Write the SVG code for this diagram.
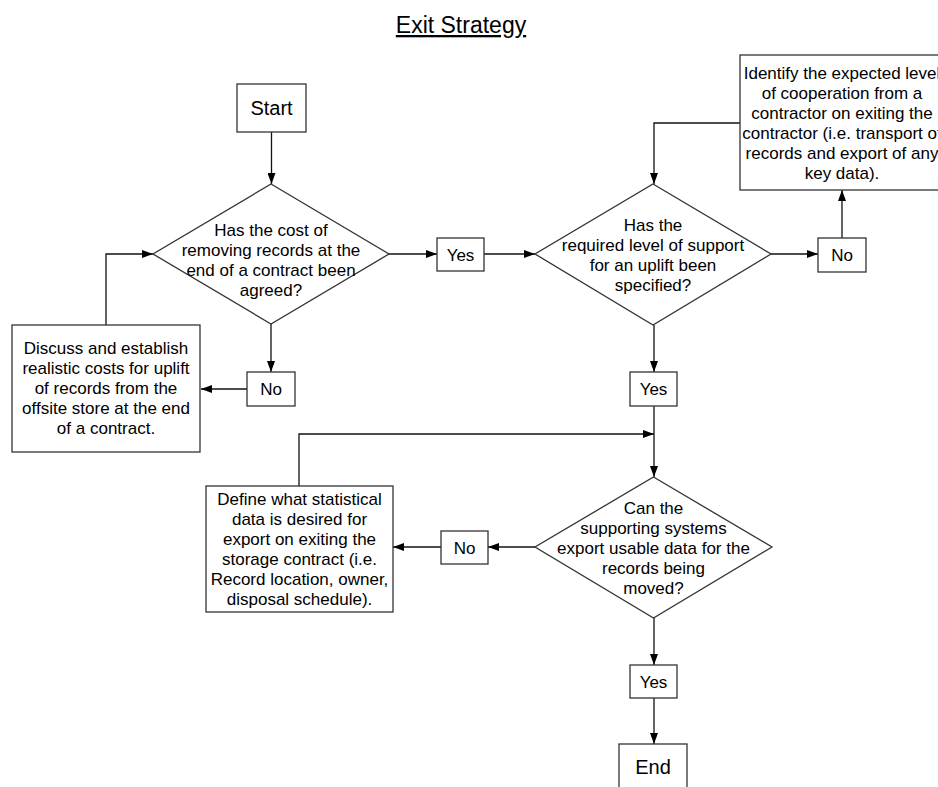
<svg xmlns="http://www.w3.org/2000/svg" width="938" height="787" viewBox="0 0 938 787">
  <defs>
    <marker id="arrow" viewBox="0 0 11 8" refX="11" refY="4" markerWidth="11" markerHeight="8" markerUnits="userSpaceOnUse" orient="auto">
      <path d="M0,0 L11,4 L0,8 z" fill="#000"/>
    </marker>
    <style>
      .shape { fill: #fff; stroke: #333; stroke-width: 1.3; }
      .conn { fill: none; stroke: #111; stroke-width: 1.3; marker-end: url(#arrow); }
      .line { fill: none; stroke: #111; stroke-width: 1.3; }
      text { font-family: "Liberation Sans", Arial, sans-serif; font-size: 17px; fill: #000; text-anchor: middle; }
      .big { font-size: 20px; }
      .title { font-size: 23px; text-decoration: underline; }
    </style>
  </defs>

  <rect width="938" height="787" fill="#fff"/>

  <text class="title" x="461" y="33">Exit Strategy</text>

  <!-- connectors -->
  <g id="connectors">
    <path class="conn" d="M271.5,132 L271.5,184"/>
    <path class="conn" d="M389,254 L437,254"/>
    <path class="conn" d="M484,254 L535,254"/>
    <path class="conn" d="M271,324 L271,372"/>
    <path class="conn" d="M247,389 L201,389"/>
    <path class="conn" d="M106,325 L106,254 L153,254"/>
    <path class="conn" d="M771,254 L818,254"/>
    <path class="conn" d="M842,238 L842,190"/>
    <path class="conn" d="M740,123 L654,123 L654,184"/>
    <path class="conn" d="M654,325 L654,372"/>
    <path class="conn" d="M654,406 L654,477"/>
    <path class="conn" d="M299,486 L299,434 L654,434"/>
    <path class="conn" d="M535,547 L488,547"/>
    <path class="conn" d="M441,547 L393,547"/>
    <path class="conn" d="M654,618 L654,665"/>
    <path class="conn" d="M654,698 L654,744"/>
  </g>

  <g id="start">
    <rect class="shape" x="237" y="84" width="69" height="48"/>
    <text class="big" x="271.5" y="115">Start</text>
  </g>

  <g id="decision-cost">
    <polygon class="shape" points="271,184 389,254 271,324 153,254"/>
    <text x="271" y="236">Has the cost of</text>
    <text x="271" y="256">removing records at the</text>
    <text x="271" y="276">end of a contract been</text>
    <text x="271" y="296">agreed?</text>
  </g>

  <g id="yes-1">
    <rect class="shape" x="437" y="238" width="47" height="33"/>
    <text x="460.5" y="260.5">Yes</text>
  </g>

  <g id="no-1">
    <rect class="shape" x="247" y="372" width="48" height="34"/>
    <text x="271" y="395">No</text>
  </g>

  <g id="discuss-costs">
    <rect class="shape" x="12" y="325" width="188" height="127"/>
    <text x="106" y="354">Discuss and establish</text>
    <text x="106" y="374">realistic costs for uplift</text>
    <text x="106" y="394">of records from the</text>
    <text x="106" y="414">offsite store at the end</text>
    <text x="106" y="434">of a contract.</text>
  </g>

  <g id="decision-support">
    <polygon class="shape" points="653,184 771,254 653,325 535,254"/>
    <text x="653" y="231">Has the</text>
    <text x="653" y="251">required level of support</text>
    <text x="653" y="271">for an uplift been</text>
    <text x="653" y="291">specified?</text>
  </g>

  <g id="no-2">
    <rect class="shape" x="818" y="238" width="48" height="34"/>
    <text x="842" y="261">No</text>
  </g>

  <g id="identify-cooperation">
    <rect class="shape" x="740" y="55" width="204" height="135"/>
    <text x="842" y="79">Identify the expected level</text>
    <text x="842" y="99">of cooperation from a</text>
    <text x="842" y="119">contractor on exiting the</text>
    <text x="842" y="139">contractor (i.e. transport of</text>
    <text x="842" y="159">records and export of any</text>
    <text x="842" y="179">key data).</text>
  </g>

  <g id="yes-2">
    <rect class="shape" x="630" y="372" width="47" height="34"/>
    <text x="653.5" y="395">Yes</text>
  </g>

  <g id="decision-export">
    <polygon class="shape" points="653.5,477 772,547 653.5,618 535,547"/>
    <text x="653.5" y="514">Can the</text>
    <text x="653.5" y="534">supporting systems</text>
    <text x="653.5" y="554">export usable data for the</text>
    <text x="653.5" y="574">records being</text>
    <text x="653.5" y="594">moved?</text>
  </g>

  <g id="no-3">
    <rect class="shape" x="441" y="531" width="47" height="33"/>
    <text x="464.5" y="553.5">No</text>
  </g>

  <g id="define-data">
    <rect class="shape" x="206" y="486" width="187" height="126"/>
    <text x="299.5" y="505">Define what statistical</text>
    <text x="299.5" y="525">data is desired for</text>
    <text x="299.5" y="545">export on exiting the</text>
    <text x="299.5" y="565">storage contract (i.e.</text>
    <text x="299.5" y="585">Record location, owner,</text>
    <text x="299.5" y="605">disposal schedule).</text>
  </g>

  <g id="yes-3">
    <rect class="shape" x="630" y="665" width="47" height="33"/>
    <text x="653.5" y="687.5">Yes</text>
  </g>

  <g id="end">
    <rect class="shape" x="619" y="744" width="68" height="50"/>
    <text class="big" x="653" y="774">End</text>
  </g>
</svg>
